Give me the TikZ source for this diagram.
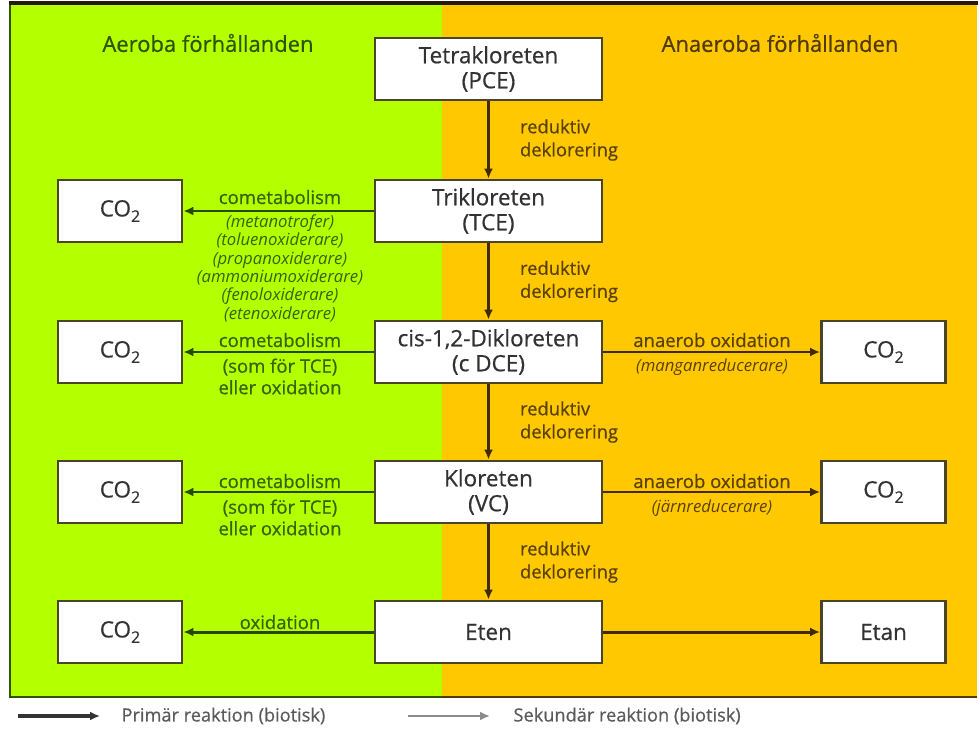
\documentclass[tikz,border=0pt]{standalone}
\usepackage{fontspec}
\setmainfont{Open Sans}[UprightFeatures={FakeBold=0.6}]
\usetikzlibrary{arrows.meta,calc}
\definecolor{aerobg}{RGB}{180,255,0}
\definecolor{anaerobg}{RGB}{255,200,0}
\definecolor{aeroedge}{RGB}{45,85,0}
\definecolor{anaeroedge}{RGB}{80,58,0}
\definecolor{aerotext}{RGB}{55,100,0}
\definecolor{aeroarrow}{RGB}{40,72,0}
\definecolor{anaerotext}{RGB}{90,65,0}
\definecolor{anaeroarrow}{RGB}{65,42,0}
\definecolor{boxedge}{RGB}{75,68,40}
\definecolor{boxtext}{RGB}{50,50,50}
\definecolor{legendtext}{RGB}{90,90,90}
\newcommand{\cotwo}{CO\raisebox{-0.45ex}{\fontsize{16}{16}\selectfont 2}}
\tikzset{
  chem/.style={draw=boxedge, line width=2.8pt, fill=white, text=boxtext,
    minimum width=227pt, minimum height=62pt, align=center, inner sep=0pt,
    font=\fontsize{22.5}{25}\selectfont},
  prod/.style={chem, minimum width=124pt},
  tip/.style={-{Latex[length=10pt,width=9pt]}},
  primdown/.style={tip, draw=anaeroarrow, line width=3pt},
  primgreen/.style={tip, draw=aeroarrow, line width=3pt},
  primorange/.style={tip, draw=anaeroarrow, line width=3pt},
  secgreen/.style={tip, draw=aeroarrow, line width=2.4pt},
  secorange/.style={tip, draw=anaeroarrow, line width=2.4pt},
  redlab/.style={anchor=west, align=left, text=anaerotext,
    font=\fontsize{18.4}{23}\selectfont},
  toplab/.style={anchor=base, font=\fontsize{18.5}{20}\selectfont},
  sublab/.style={anchor=north, align=center, font=\fontsize{18.5}{21.5}\selectfont},
  italab/.style={sublab, font=\fontsize{16.7}{18.4}\selectfont\itshape},
  header/.style={font=\fontsize{22}{24}\selectfont},
  legendlab/.style={anchor=west, text=legendtext, font=\fontsize{18.2}{20}\selectfont}
}
\begin{document}
\begin{tikzpicture}[x=1pt,y=-1pt]
\useasboundingbox (0,0) rectangle (979,731);
% the two halves: aerobic (left) and anaerobic (right)
\fill[aerobg] (10,3) rectangle (442,697);
\fill[anaerobg] (442,3) rectangle (977,697);
\draw[aeroedge, line width=2pt] (442,697) -- (10,697) -- (10,3) -- (442,3);
\draw[anaeroedge, line width=2pt] (442,697) -- (977,697);
\draw[black!80!brown, line width=3.5pt] (9,3) -- (978,3);

\node[header, text=aeroedge] (hAer) at (208,43) {Aeroba förhållanden};
\node[header, text=anaeroedge] (hAna) at (780,43) {Anaeroba förhållanden};

% main chain of chlorinated ethenes
\node[chem] (pce) at (488.5,69)  {Tetrakloreten\\(PCE)};
\node[chem] (tce) at (488.5,211) {Trikloreten\\(TCE)};
\node[chem] (dce) at (488.5,352) {cis-1,2-Dikloreten\\(c DCE)};
\node[chem] (vc)  at (488.5,492) {Kloreten\\(VC)};
\node[chem] (eten) at (488.5,632) {Eten};

% products
\node[prod] (co2a) at (120,211) {\cotwo};
\node[prod] (co2b) at (120,352) {\cotwo};
\node[prod] (co2c) at (120,492) {\cotwo};
\node[prod] (co2d) at (120,632) {\cotwo};
\node[prod] (co2e) at (883.5,352) {\cotwo};
\node[prod] (co2f) at (883.5,492) {\cotwo};
\node[prod] (etan) at (883.5,632) {Etan};

% reductive dechlorination
\foreach \a/\b in {pce/tce, tce/dce, dce/vc, vc/eten}{
  \draw[primdown] (\a.south) -- (\b.north);
  \node[redlab] at ($(\a.south)!0.5!(\b.north)+(28,0)$) {reduktiv\\deklorering};
}

% aerobic cometabolism of TCE
\draw[secgreen] (tce.west) -- (co2a.east);
\node[toplab, text=aerotext] (cmA) at (280,204) {cometabolism};
\node[italab, text=aerotext] (subA) at (280,211)
  {(metanotrofer)\\(toluenoxiderare)\\(propanoxiderare)\\(ammoniumoxiderare)\\(fenoloxiderare)\\(etenoxiderare)};

% aerobic degradation of cDCE
\draw[secgreen] (dce.west) -- (co2b.east);
\node[toplab, text=aerotext] (cmB) at (280,347) {cometabolism};
\node[sublab, text=aerotext] (subB) at (280,355) {(som för TCE)\\eller oxidation};

% aerobic degradation of VC
\draw[secgreen] (vc.west) -- (co2c.east);
\node[toplab, text=aerotext] (cmC) at (280,488) {cometabolism};
\node[sublab, text=aerotext] (subC) at (280,496) {(som för TCE)\\eller oxidation};

% aerobic oxidation of ethene
\draw[primgreen] (eten.west) -- (co2d.east);
\node[toplab, text=aerotext] (oxD) at (280,629) {oxidation};

% anaerobic oxidation
\draw[secorange] (dce.east) -- (co2e.west);
\node[toplab, text=anaerotext] (anE) at (712,347) {anaerob oxidation};
\node[italab, text=anaerotext] (subE) at (712,355) {(manganreducerare)};

\draw[secorange] (vc.east) -- (co2f.west);
\node[toplab, text=anaerotext] (anF) at (712,488) {anaerob oxidation};
\node[italab, text=anaerotext] (subF) at (712,496) {(järnreducerare)};

% ethene to ethane
\draw[primorange] (eten.east) -- (etan.west);

% legend
\coordinate (lpA) at (18,716);
\coordinate (lpB) at (100,716);
\coordinate (lsA) at (408,716);
\coordinate (lsB) at (490,716);
\draw[tip, draw=black!80, line width=3.6pt] (lpA) -- (lpB);
\node[legendlab] (lp) at (118,716) {Primär reaktion (biotisk)};
\draw[tip, draw=black!45, line width=2.2pt] (lsA) -- (lsB);
\node[legendlab] (ls) at (510,716) {Sekundär reaktion (biotisk)};
\end{tikzpicture}
\end{document}
